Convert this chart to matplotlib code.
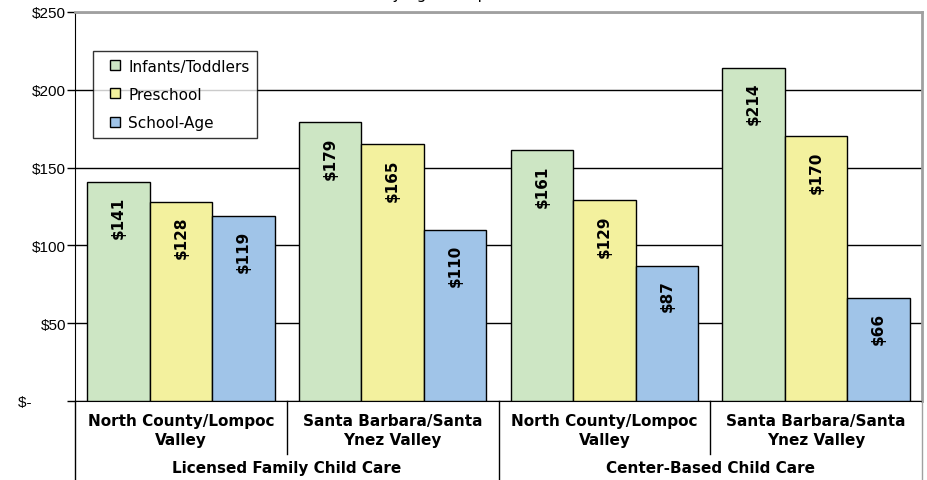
import numpy as np
import matplotlib.pyplot as plt
from matplotlib.lines import Line2D
import matplotlib.transforms as mtransforms

regions = ["North County/Lompoc\nValley", "Santa Barbara/Santa\nYnez Valley",
           "North County/Lompoc\nValley", "Santa Barbara/Santa\nYnez Valley"]
care_types = ["Licensed Family Child Care", "Center-Based Child Care"]
age_groups = ["Infants/Toddlers", "Preschool", "School-Age"]
infants = [141, 179, 161, 214]
preschool = [128, 165, 129, 170]
school_age = [119, 110, 87, 66]
yticks = [0, 50, 100, 150, 200, 250]
ytick_labels = ["$-        ", "$50", "$100", "$150", "$200", "$250"]

colors = ["#cde6c4", "#f3f19e", "#a0c4e8"]

dpi = 100
fig = plt.figure(figsize=(927 / dpi, 481 / dpi), dpi=dpi)
ax = fig.add_axes([75 / 927, 1 - 402 / 481, 847 / 927, 389 / 481])

x = np.arange(len(regions))
w = 0.295
for i, (vals, c) in enumerate(zip([infants, preschool, school_age], colors)):
    pos = x + (i - 1) * w
    ax.bar(pos, vals, width=w, color=c, edgecolor="black", linewidth=1, zorder=3)
    for p, v in zip(pos, vals):
        ax.annotate(f"${v}", (p, v), xytext=(0, -10), textcoords="offset points",
                    rotation=90, ha="center", va="top", fontsize=11,
                    fontweight="bold", zorder=4)

ax.set_xlim(-0.5, 3.5)
ax.set_ylim(0, 250)
ax.set_yticks(yticks)
ax.set_yticklabels(ytick_labels, fontsize=11, family="Liberation Sans")
ax.tick_params(axis="y", length=6, width=1, direction="out", pad=0.5)
ax.set_xticks([])
ax.grid(axis="y", color="black", linewidth=1, zorder=1)

for s in ["top", "right"]:
    ax.spines[s].set_color("#a0a0a0")
    ax.spines[s].set_linewidth(2)
ax.spines["left"].set_color("black")
ax.spines["bottom"].set_color("black")

# two-level category axis
tr = mtransforms.blended_transform_factory(ax.transData, fig.transFigure)
y_axis = 1 - 402 / 481
y_inner = 1 - 455 / 481
y_bottom = 0.0
for xv, ylow in [(-0.5, y_bottom), (0.5, y_inner), (1.5, y_bottom),
                 (2.5, y_inner), (3.5, y_bottom)]:
    lc = "#a0a0a0" if xv == 3.5 else "black"
    fig.add_artist(Line2D([xv, xv], [y_axis, ylow], transform=tr,
                          color=lc, linewidth=1))
for xi, lab in zip(x, regions):
    fig.text(xi, 1 - 431 / 481, lab, transform=tr, ha="center", va="center",
             fontsize=11, fontweight="bold", linespacing=1.35)
for xi, lab in zip([0.5, 2.5], care_types):
    fig.text(xi, 1 - 469 / 481, lab, transform=tr, ha="center", va="center",
             fontsize=11, fontweight="bold")

handles = [Line2D([], [], linestyle="none", marker="s", markersize=6.5,
                  markerfacecolor=c, markeredgecolor="black",
                  markeredgewidth=1) for c in colors]
leg = ax.legend(handles, age_groups, loc="upper left",
                bbox_to_anchor=(18 / 847, 350 / 389), borderaxespad=0,
                fontsize=11, frameon=True, fancybox=False, edgecolor="black",
                handlelength=1.9, handletextpad=-0.1,
                labelspacing=0.86, borderpad=0.5)
leg.get_frame().set_linewidth(1)
leg.set_zorder(5)

# title sits above the top edge, only its descenders show
fig.text(487 / 927, 1.0 + 0.5 / 481, "Child Care Costs by Age Group",
         ha="right", va="baseline", fontsize=11)

fig.savefig("out.png", dpi=dpi)
